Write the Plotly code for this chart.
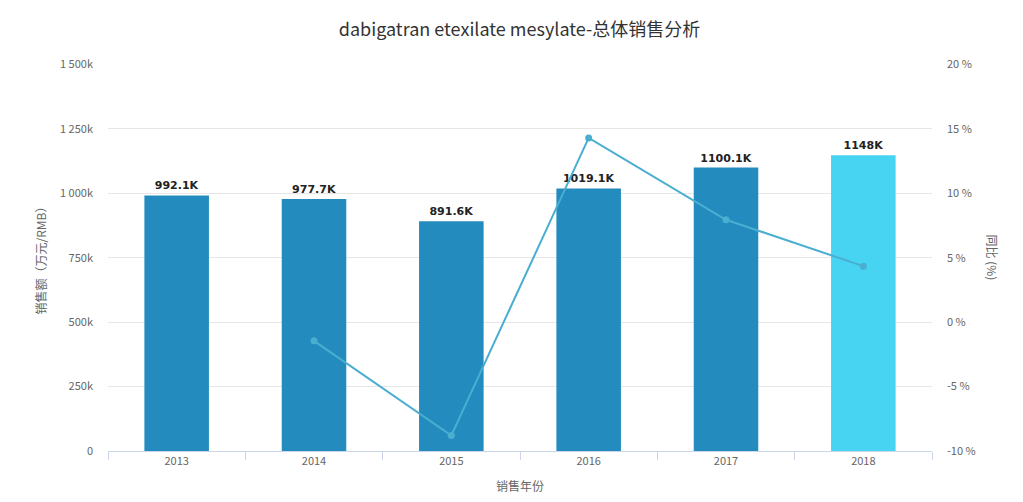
import plotly.graph_objects as go

years = ["2013", "2014", "2015", "2016", "2017", "2018"]
sales = [992.1, 977.7, 891.6, 1019.1, 1100.1, 1148.0]  # k 万元
sales_labels = ["992.1K", "977.7K", "891.6K", "1019.1K", "1100.1K", "1148K"]
growth_years = ["2014", "2015", "2016", "2017", "2018"]
growth = [-1.45, -8.8, 14.3, 7.95, 4.35]

left_ticks = [0, 250, 500, 750, 1000, 1250, 1500]
left_ticktext = ["0", "250k", "500k", "750k", "1 000k", "1 250k", "1 500k"]
right_ticks = [-10, -5, 0, 5, 10, 15, 20]
right_ticktext = ["-10 %", "-5 %", "0 %", "5 %", "10 %", "15 %", "20 %"]

bar_colors = ["#248bbf"] * 5 + ["#47d3f2"]
line_color = "#4aaed0"
font_family = "Noto Sans CJK SC, Noto Sans, sans-serif"
axis_title_font = dict(size=12, color="#666")

fig = go.Figure()

fig.add_trace(go.Bar(
    x=years, y=sales, text=sales_labels, textposition="outside",
    textfont=dict(size=11, color="#222", family="DejaVu Sans", weight="bold"),
    marker=dict(color=bar_colors, line=dict(width=0)),
    width=0.47, cliponaxis=False, name="销售额",
))

fig.add_trace(go.Scatter(
    x=growth_years, y=growth, yaxis="y2", mode="lines+markers",
    line=dict(color=line_color, width=2),
    marker=dict(color=line_color, size=7), name="同比",
))

# page body has an 8px margin, so margins are shifted to compensate
fig.update_layout(
    width=1023, height=502,
    margin=dict(l=100, r=99, t=56, b=59),
    paper_bgcolor="white", plot_bgcolor="white",
    showlegend=False,
    font=dict(family=font_family, color="#666", size=11),
    title=dict(text="dabigatran etexilate mesylate-总体销售分析",
               x=0.5, xanchor="center", y=0.956, yanchor="middle",
               font=dict(size=18, color="#333")),
    xaxis=dict(
        type="category", tickson="boundaries", ticks="outside", ticklen=8,
        tickcolor="#ccd6eb", showline=True, linecolor="#ccd6eb",
        showgrid=False, tickfont=dict(size=11, color="#666"), automargin=False,
    ),
    yaxis=dict(
        range=[0, 1502], tickvals=left_ticks, ticktext=left_ticktext,
        showgrid=True, gridcolor="#e6e6e6", zeroline=False,
        tickfont=dict(size=11, color="#666"), ticklabelstandoff=14,
        automargin=False,
    ),
    yaxis2=dict(
        range=[-10, 20.04], tickvals=right_ticks, ticktext=right_ticktext,
        overlaying="y", side="right", showgrid=False, zeroline=False,
        tickfont=dict(size=11, color="#666"), ticklabelstandoff=14,
        automargin=False,
    ),
    annotations=[
        dict(text="销售额（万元/RMB）", xref="paper", yref="paper", x=-0.0825, y=0.5,
             xanchor="center", yanchor="middle",
             textangle=-90, showarrow=False, font=axis_title_font),
        dict(text="同比 (%)", xref="paper", yref="paper", x=1.074, y=0.5,
             xanchor="center", yanchor="middle",
             textangle=90, showarrow=False, font=axis_title_font),
        dict(text="销售年份", xref="paper", yref="paper", x=0.5, y=-0.088,
             xanchor="center", yanchor="middle", showarrow=False, font=axis_title_font),
    ],
)

fig.write_html("out.html")
